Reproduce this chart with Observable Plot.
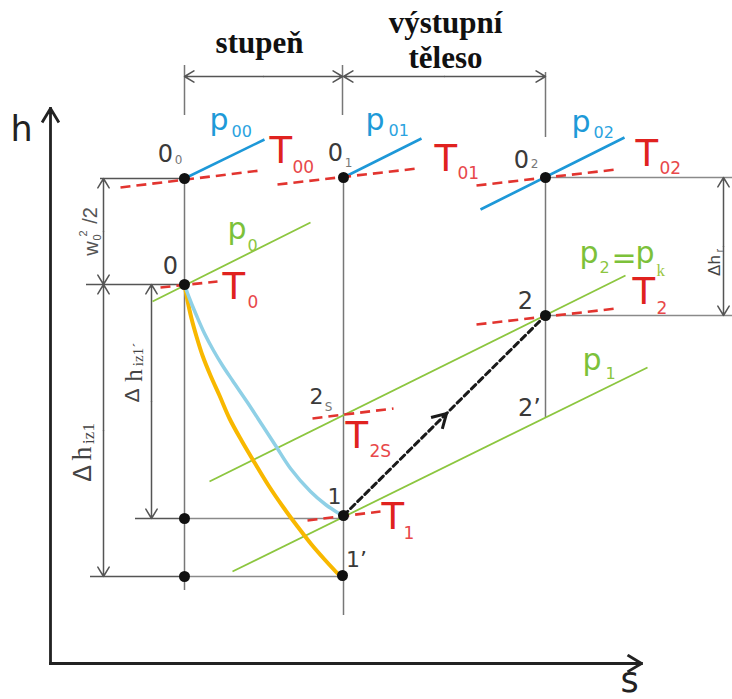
<!DOCTYPE html>
<html><head><meta charset="utf-8">
<script src="https://cdn.jsdelivr.net/npm/d3@7"></script>
<script src="https://cdn.jsdelivr.net/npm/@observablehq/plot@0.6"></script>
<style>body{margin:0;background:#fff}</style>
</head><body><div id="chart"></div>
<script>
// ---- diagram data (s to the right, h measured in frame units from the top) ----
const statePoints = [
  {id: "0_0", s: 184, h: 178}, {id: "0", s: 184, h: 284}, {id: "0_1", s: 343, h: 177},
  {id: "0_2", s: 545, h: 177}, {id: "2", s: 545, h: 315}, {id: "1", s: 343, h: 515},
  {id: "1'", s: 342, h: 575}, {id: "1 proj", s: 184, h: 518}, {id: "1' proj", s: 184, h: 576}
];
const totalIsobars = [ // p00, p01, p02
  {s1: 184, h1: 178, s2: 264, h2: 139},
  {s1: 343, h1: 177, s2: 421, h2: 138},
  {s1: 480, h1: 209, s2: 624, h2: 137}
];
const staticIsobars = [ // p0, p2 = pk, p1
  {s1: 152, h1: 301, s2: 310, h2: 222},
  {s1: 209, h1: 481, s2: 625, h2: 275},
  {s1: 232, h1: 571, s2: 647, h2: 367}
];
const isotherms = [ // T00, T01, T02, T0, T2, T2s, T1
  {s1: 120, h1: 187, s2: 260, h2: 170},
  {s1: 277, h1: 184, s2: 417, h2: 168},
  {s1: 476, h1: 185, s2: 616, h2: 169},
  {s1: 160, h1: 287, s2: 217, h2: 281},
  {s1: 476, h1: 324, s2: 616, h2: 308},
  {s1: 312, h1: 418, s2: 393, h2: 408},
  {s1: 307, h1: 520, s2: 380, h2: 511}
];
const realExpansion = [
  {s: 184, h: 284}, {s: 189, h: 298}, {s: 196, h: 315}, {s: 204, h: 333}, {s: 213, h: 350},
  {s: 222, h: 365}, {s: 232, h: 380}, {s: 247, h: 402}, {s: 262, h: 425}, {s: 275, h: 445},
  {s: 290, h: 468}, {s: 310, h: 491}, {s: 325, h: 504}, {s: 340, h: 514}
];
const idealExpansion = [
  {s: 184, h: 284}, {s: 187, h: 300}, {s: 191, h: 318}, {s: 196, h: 336}, {s: 202, h: 355},
  {s: 210, h: 375}, {s: 219, h: 395}, {s: 229, h: 418}, {s: 241, h: 440}, {s: 254, h: 462},
  {s: 268, h: 485}, {s: 283, h: 507}, {s: 297, h: 526}, {s: 311, h: 544}, {s: 325, h: 560},
  {s: 338, h: 574}
];
const diffuserProcess = [{s: 343, h: 515}, {s: 545, h: 315}];
const processArrowAt = 0.51;

const guideVertical = [
  {s: 184, h1: 65, h2: 115}, {s: 184, h1: 178, h2: 590},
  {s: 342, h1: 65, h2: 115}, {s: 343, h1: 177, h2: 615},
  {s: 545, h1: 72, h2: 137}, {s: 545, h1: 177, h2: 417}
];
const guideHorizontal = [
  {h: 518, s1: 184, s2: 343}, {h: 576, s1: 184, s2: 342},
  {h: 177, s1: 550, s2: 732}, {h: 315, s1: 550, s2: 732}
];
const extensionLines = [
  {h: 178, s1: 100, s2: 184}, {h: 284, s1: 86, s2: 184},
  {h: 518, s1: 135, s2: 184}, {h: 576, s1: 90, s2: 184}
];
const dimensions = [
  {s1: 184, h1: 76, s2: 342, h2: 76}, {s1: 343, h1: 76, s2: 545, h2: 76},
  {s1: 103, h1: 178, s2: 103, h2: 284}, {s1: 103, h1: 284, s2: 103, h2: 576},
  {s1: 151, h1: 284, s2: 151, h2: 518}, {s1: 723, h1: 177, s2: 723, h2: 315}
];
const axesLines = [{s1: 50, h1: 663, s2: 50, h2: 108}, {s1: 50, h1: 663, s2: 641, h2: 663}];

// ---- text ----
const axisLabels = [{text: "h", s: 10, h: 140}, {text: "s", s: 620, h: 691}];
const titles = [{text: "stupeň", s: 259, h: 52}, {text: "výstupní", s: 445, h: 32}, {text: "těleso", s: 445, h: 67}];
const stateLabels = [
  {text: "0", s: 165, h: 161}, {text: "0", s: 335, h: 160}, {text: "0", s: 521, h: 167},
  {text: "0", s: 170, h: 273}, {text: "2", s: 525, h: 308}, {text: "2’", s: 529, h: 415}
];
const stateLabelsSmall = [{text: "2", s: 316, h: 403}, {text: "1", s: 334, h: 503}, {text: "1’", s: 356, h: 566}];
const stateSubs = [{text: "0", s: 178, h: 163}, {text: "1", s: 348, h: 166}, {text: "2", s: 534, h: 167}, {text: "S", s: 328, h: 410}];
const blueP = [{text: "p", s: 209, h: 129}, {text: "p", s: 365, h: 129}, {text: "p", s: 571, h: 131}];
const blueSubs = [{text: "00", s: 231, h: 136}, {text: "01", s: 388, h: 135}, {text: "02", s: 593, h: 137}];
const greenP = [{text: "p", s: 227, h: 238}, {text: "p", s: 579, h: 262}, {text: "=", s: 611, h: 267}, {text: "p", s: 635, h: 262}, {text: "p", s: 582, h: 369}];
const greenSubs = [{text: "0", s: 247, h: 250}, {text: "2", s: 599, h: 272}, {text: "1", s: 605, h: 378}];
const greenSubK = [{text: "k", s: 656, h: 275}];
const redT = [
  {text: "T", s: 269, h: 162}, {text: "T", s: 434, h: 170}, {text: "T", s: 635, h: 165},
  {text: "T", s: 222, h: 298}, {text: "T", s: 632, h: 303}, {text: "T", s: 345, h: 447}, {text: "T", s: 381, h: 528}
];
const redSubs = [
  {text: "00", s: 292, h: 172}, {text: "01", s: 457, h: 178}, {text: "02", s: 659, h: 173},
  {text: "0", s: 247, h: 307}, {text: "2", s: 656, h: 313}, {text: "2S", s: 369, h: 456}, {text: "1", s: 403, h: 538}
];
// rotated dimension labels
const w0Main = [{text: "w", s: 91, h: 248}, {text: "/2", s: 90, h: 215}];
const w0Scripts = [{text: "0", s: 97, h: 237}, {text: "2", s: 83, h: 233}];
const dhIz1Delta = [{text: "Δ", s: 82, h: 473}];
const dhIz1H = [{text: "h", s: 82, h: 453}];
const dhIz1Sub = [{text: "iz1", s: 88, h: 433}];
const dhIz1pDelta = [{text: "Δ", s: 132, h: 395}];
const dhIz1pH = [{text: "h", s: 133, h: 375}];
const dhIz1pSub = [{text: "iz1´", s: 138, h: 354}];
const dhR = [{text: "Δh", s: 714, h: 265}];
const dhRSub = [{text: "r", s: 719, h: 250}];

// ---- helpers ----
const sans = "'DejaVu Sans', Verdana, sans-serif";
const sansNarrow = "'Liberation Sans', Arial, Helvetica, sans-serif";
const serif = "'Liberation Serif', 'Times New Roman', serif";
const seg = (data, o) => Plot.link(data, {x1: "s1", y1: "h1", x2: "s2", y2: "h2", ...o});
const halves = dimensions.flatMap(d => {
  const ms = (d.s1 + d.s2) / 2, mh = (d.h1 + d.h2) / 2;
  return [{s1: ms, h1: mh, s2: d.s1, h2: d.h1}, {s1: ms, h1: mh, s2: d.s2, h2: d.h2}];
});
const [pA, pB] = diffuserProcess;
const processTip = [{s: pA.s + (pB.s - pA.s) * processArrowAt, h: pA.h + (pB.h - pA.h) * processArrowAt}];
const dir = Math.atan2(pB.h - pA.h, pB.s - pA.s);
const chevron = {
  draw(ctx, size) {
    const L = Math.sqrt(size / Math.PI);
    const a1 = dir + Math.PI - Math.PI / 6, a2 = dir + Math.PI + Math.PI / 6;
    ctx.moveTo(L * Math.cos(a1), L * Math.sin(a1));
    ctx.lineTo(0, 0);
    ctx.lineTo(L * Math.cos(a2), L * Math.sin(a2));
  }
};
const txt = (data, o) => Plot.text(data, {x: "s", y: "h", text: "text", textAnchor: "start", lineAnchor: "bottom", fontFamily: sans, ...o});
const rot = (data, o) => Plot.text(data, {x: "s", y: "h", text: "text", rotate: -90, textAnchor: "middle", lineAnchor: "middle", fill: "#444", fontFamily: sansNarrow, ...o});

const chart = Plot.plot({
  width: 732, height: 699, margin: 0,
  x: {domain: [0, 732], axis: null},
  y: {domain: [0, 699], reverse: true, axis: null},
  style: {fontFamily: sans, background: "#fff"},
  marks: [
    Plot.ruleX(guideVertical, {x: "s", y1: "h1", y2: "h2", stroke: "#777", strokeWidth: 1.5}),
    Plot.ruleY(guideHorizontal, {y: "h", x1: "s1", x2: "s2", stroke: "#8a8a8a", strokeWidth: 1.3}),
    Plot.ruleY(extensionLines, {y: "h", x1: "s1", x2: "s2", stroke: "#555", strokeWidth: 1.6}),
    Plot.arrow(halves, {x1: "s1", y1: "h1", x2: "s2", y2: "h2", stroke: "#555", strokeWidth: 1.5, headLength: 11, headAngle: 62}),
    Plot.arrow(axesLines, {x1: "s1", y1: "h1", x2: "s2", y2: "h2", stroke: "#222", strokeWidth: 2.8, headLength: 8, headAngle: 62, strokeLinecap: "square"}),
    seg(staticIsobars, {stroke: "#8cc63f", strokeWidth: 1.8}),
    seg(totalIsobars, {stroke: "#1d98d8", strokeWidth: 2.6}),
    seg(isotherms, {stroke: "#e2342f", strokeWidth: 2.6, strokeDasharray: "10,6"}),
    Plot.line(idealExpansion, {x: "s", y: "h", stroke: "#f8b800", strokeWidth: 4, curve: "catmull-rom"}),
    Plot.line(realExpansion, {x: "s", y: "h", stroke: "#8fd0e6", strokeWidth: 3.5, curve: "catmull-rom"}),
    Plot.line(diffuserProcess, {x: "s", y: "h", stroke: "#1a1a1a", strokeWidth: 3, strokeDasharray: "6,4"}),
    Plot.dot(processTip, {x: "s", y: "h", symbol: chevron, r: 16, fill: "none", stroke: "#1a1a1a", strokeWidth: 3}),
    Plot.dot(statePoints, {x: "s", y: "h", r: 5.5, fill: "#111"}),
    // text
    txt(axisLabels, {fontSize: 35, fill: "#222"}),
    txt(titles, {fontFamily: serif, fontWeight: "bold", fontSize: 31, textAnchor: "middle", fill: "#111"}),
    txt(stateLabels, {fontSize: 24, textAnchor: "middle", fill: "#3a3a3a"}),
    txt(stateLabelsSmall, {fontSize: 22, textAnchor: "middle", fill: "#3a3a3a"}),
    txt(stateSubs, {fontSize: 12, textAnchor: "middle", fill: "#777"}),
    txt(blueP, {fontSize: 30, fill: "#1e9ad8"}),
    txt(blueSubs, {fontSize: 16, fill: "#2aa3e0"}),
    txt(greenP, {fontSize: 30, fill: "#7cc13a"}),
    txt(greenSubs, {fontSize: 16, fill: "#8cc63f"}),
    txt(greenSubK, {fontFamily: serif, fontSize: 17, fill: "#9ac640"}),
    txt(redT, {fontSize: 37, fill: "#e0221f"}),
    txt(redSubs, {fontSize: 17, fill: "#e8484a"}),
    rot(w0Main, {fontSize: 20, fill: "#555"}),
    rot(w0Scripts, {fontSize: 11, fill: "#555"}),
    rot(dhIz1Delta, {fontSize: 25}),
    rot(dhIz1H, {fontFamily: serif, fontSize: 28}),
    rot(dhIz1Sub, {fontFamily: serif, fontSize: 17}),
    rot(dhIz1pDelta, {fontSize: 21}),
    rot(dhIz1pH, {fontFamily: serif, fontSize: 25}),
    rot(dhIz1pSub, {fontFamily: serif, fontSize: 15}),
    rot(dhR, {fontSize: 17}),
    rot(dhRSub, {fontSize: 10})
  ]
});
document.getElementById("chart").append(chart);
</script>
</body></html>
